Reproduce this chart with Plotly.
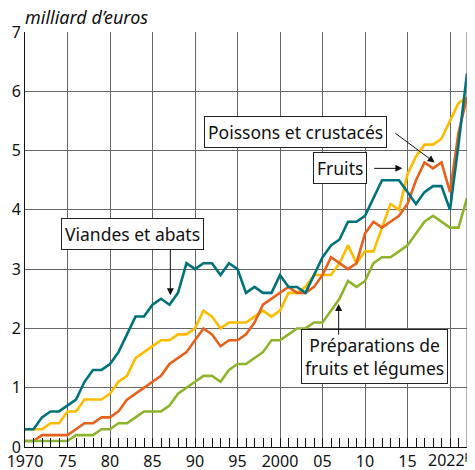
import plotly.graph_objects as go

years = list(range(1970, 2023))

# milliard d'euros
viandes = [0.3, 0.3, 0.5, 0.6, 0.6, 0.7, 0.8, 1.1, 1.3, 1.3,
           1.4, 1.6, 1.9, 2.2, 2.2, 2.4, 2.5, 2.4, 2.6, 3.1,
           3.0, 3.1, 3.1, 2.9, 3.1, 3.0, 2.6, 2.7, 2.6, 2.6,
           2.9, 2.7, 2.7, 2.6, 2.9, 3.2, 3.4, 3.5, 3.8, 3.8,
           3.9, 4.2, 4.5, 4.5, 4.5, 4.3, 4.1, 4.3, 4.4, 4.4,
           4.0, 5.1, 6.3]
fruits = [0.3, 0.3, 0.3, 0.4, 0.4, 0.6, 0.6, 0.8, 0.8, 0.8,
          0.9, 1.1, 1.2, 1.5, 1.6, 1.7, 1.8, 1.8, 1.9, 1.9,
          2.0, 2.3, 2.2, 2.0, 2.1, 2.1, 2.1, 2.2, 2.3, 2.2,
          2.3, 2.6, 2.6, 2.7, 2.9, 2.9, 2.9, 3.1, 3.4, 3.1,
          3.3, 3.3, 3.7, 4.1, 4.0, 4.6, 4.9, 5.1, 5.1, 5.2,
          5.5, 5.8, 5.9]
poissons = [0.1, 0.1, 0.2, 0.2, 0.2, 0.2, 0.3, 0.4, 0.4, 0.5,
            0.5, 0.6, 0.8, 0.9, 1.0, 1.1, 1.2, 1.4, 1.5, 1.6,
            1.8, 2.0, 1.9, 1.7, 1.8, 1.8, 1.9, 2.1, 2.4, 2.5,
            2.6, 2.7, 2.6, 2.6, 2.7, 2.9, 3.2, 3.1, 3.0, 3.1,
            3.6, 3.8, 3.7, 3.8, 3.9, 4.1, 4.5, 4.8, 4.7, 4.8,
            4.3, 5.3, 5.9]
preparations = [0.1, 0.1, 0.1, 0.1, 0.1, 0.1, 0.2, 0.2, 0.2, 0.3,
                0.3, 0.4, 0.4, 0.5, 0.6, 0.6, 0.6, 0.7, 0.9, 1.0,
                1.1, 1.2, 1.2, 1.1, 1.3, 1.4, 1.4, 1.5, 1.6, 1.8,
                1.8, 1.9, 2.0, 2.0, 2.1, 2.1, 2.3, 2.5, 2.8, 2.7,
                2.8, 3.1, 3.2, 3.2, 3.3, 3.4, 3.6, 3.8, 3.9, 3.8,
                3.7, 3.7, 4.2]

tick_years = list(range(1970, 2021, 5))
tick_labels = ['1970', '75', '80', '85', '90', '95', '2000', '05', '10', '15', '']

FONT = 'Noto Sans'

fig = go.Figure()

# une courbe par catégorie
fig.add_trace(go.Scatter(x=years, y=fruits, mode='lines', name='Fruits',
                         line=dict(color='#fdbb00', width=2.6)))
fig.add_trace(go.Scatter(x=years, y=poissons, mode='lines', name='Poissons et crustacés',
                         line=dict(color='#e8601c', width=2.6)))
fig.add_trace(go.Scatter(x=years, y=preparations, mode='lines', name='Préparations de fruits et légumes',
                         line=dict(color='#8db42a', width=2.6)))
fig.add_trace(go.Scatter(x=years, y=viandes, mode='lines', name='Viandes et abats',
                         line=dict(color='#00727a', width=2.6)))

# étiquettes encadrées
box = dict(bgcolor='white', bordercolor='#222', borderwidth=1, borderpad=3,
           showarrow=False, font=dict(family=FONT, size=17.5, color='#111'))
labels = [
    ('Viandes et abats', 1982.7, 3.59),
    ('Poissons et crustacés', 2001.8, 5.32),
    ('Fruits', 2007.1, 4.7),
    ('Préparations de<br>fruits et légumes', 2011.1, 1.52),
]
for txt, lx, ly in labels:
    fig.add_annotation(text=txt, x=lx, y=ly, xref='x', yref='y', **box)

# flèches
arrows = [
    (1987.1, 2.56, 1987.1, 3.36),
    (2018.2, 4.80, 2013.4, 5.31),
    (2014.4, 4.70, 2010.9, 4.70),
    (2006.9, 2.41, 2006.9, 1.87),
]
for tx, ty, sx, sy in arrows:
    fig.add_annotation(text='', x=tx, y=ty, ax=sx, ay=sy, xref='x', yref='y',
                       axref='x', ayref='y', showarrow=True, arrowhead=2,
                       arrowsize=1.4, arrowwidth=1, arrowcolor='#111', standoff=0)

fig.add_annotation(text='<i>milliard d’euros</i>', xref='paper', yref='paper',
                   x=-0.005, y=1.036, xanchor='left', yanchor='middle', showarrow=False,
                   font=dict(family=FONT, size=18, color='#111'))
fig.add_annotation(text='2022<sup>p</sup>', xref='x', yref='paper', x=2022, y=0,
                   xanchor='right', yanchor='top', yshift=2, xshift=7, showarrow=False,
                   font=dict(family=FONT, size=16, color='#111'))

# bord droit du cadre
fig.add_shape(type='line', xref='paper', yref='paper', x0=1, x1=1, y0=0, y1=1,
              line=dict(color='#666', width=1))

# la page ajoute 8 px de marge : figure réduite d'autant
fig.update_layout(
    width=467, height=462,
    margin=dict(l=17, r=8, t=24, b=23),
    plot_bgcolor='white', paper_bgcolor='white',
    showlegend=False,
    font=dict(family=FONT, size=16, color='#111'),
    xaxis=dict(range=[1970, 2022], tickmode='array', tickvals=tick_years, ticktext=tick_labels,
               showgrid=True, gridcolor='#666', gridwidth=1,
               showline=True, linecolor='#111', linewidth=1,
               ticks='inside', ticklen=9, tickcolor='#111',
               minor=dict(tickvals=years, ticks='inside', ticklen=9, tickcolor='#111', showgrid=False),
               zeroline=False, tickfont=dict(size=16), automargin=False,
               ticklabeloverflow='allow'),
    yaxis=dict(range=[0, 7], dtick=1, showgrid=True, gridcolor='#666', gridwidth=1,
               showline=True, linecolor='#111', linewidth=1, ticks='', zeroline=False,
               tickfont=dict(size=16), automargin=False, ticklabeloverflow='allow'),
)

fig.write_html("out.html")
